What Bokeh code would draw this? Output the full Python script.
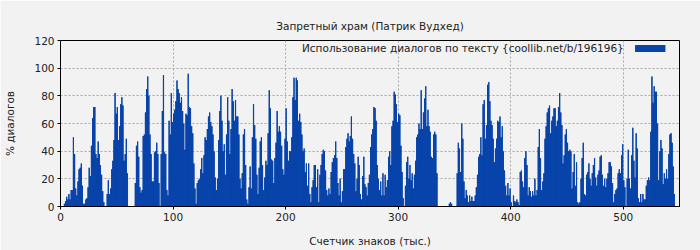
from bokeh.plotting import figure
from bokeh.models import Range1d, BoxAnnotation, Label, FixedTicker
from bokeh.embed import file_html
from bokeh.resources import INLINE

title_text = "Запретный храм (Патрик Вудхед)"
x_label = "Счетчик знаков (тыс.)"
y_label = "% диалогов"
legend_text = "Использование диалогов по тексту {coollib.net/b/196196}"
x_ticks = [0, 100, 200, 300, 400, 500]
y_ticks = [0, 20, 40, 60, 80, 100, 120]

# % of dialogue per 1000 characters
seg_000_047 = [0, 0, 0, 2, 4, 7, 5, 9, 5, 12, 12, 50, 38, 13, 8, 18, 27, 28, 31, 15, 2, 2, 5, 6,
               14, 28, 22, 44, 64, 72, 72, 38, 35, 47, 38, 30, 23, 11, 3, 0, 0, 9, 19, 9, 13, 27, 33, 48]
seg_048_096 = [82, 67, 72, 48, 58, 74, 79, 73, 33, 38, 49, 24, 0, 0, 0, 0, 0, 0, 17, 44, 47, 36, 14, 10,
               12, 51, 52, 68, 85, 94, 80, 52, 38, 18, 18, 39, 40, 46, 38, 17, 0, 38, 69, 95, 39, 38, 12, 8, 62]
seg_097_145 = [52, 82, 61, 67, 70, 76, 91, 85, 82, 75, 79, 69, 60, 41, 67, 66, 96, 72, 71, 58, 53, 31, 13, 2,
               17, 19, 20, 27, 35, 24, 37, 50, 48, 56, 65, 68, 61, 58, 52, 40, 21, 12, 20, 48, 69, 80, 62, 40, 45]
seg_146_194 = [23, 52, 79, 62, 38, 56, 85, 76, 62, 77, 65, 65, 52, 20, 13, 24, 52, 56, 30, 5, 2, 14, 29, 13,
               50, 74, 59, 49, 23, 9, 28, 47, 50, 30, 12, 21, 33, 30, 53, 84, 71, 34, 33, 17, 35, 46, 69, 54, 58]
seg_195_243 = [54, 44, 27, 23, 49, 71, 47, 33, 40, 40, 50, 79, 93, 77, 93, 91, 62, 67, 61, 52, 40, 42, 25, 31,
               15, 31, 9, 3, 14, 19, 30, 30, 14, 27, 3, 23, 30, 38, 41, 40, 26, 12, 8, 13, 9, 25, 32, 35, 37]
seg_244_292 = [47, 35, 17, 8, 20, 3, 11, 27, 27, 43, 49, 53, 47, 51, 65, 49, 38, 31, 11, 20, 36, 30, 9, 5,
               22, 36, 16, 14, 8, 17, 23, 43, 52, 56, 72, 71, 62, 30, 20, 12, 18, 8, 24, 8, 23, 14, 19, 36, 40]
seg_293_334 = [30, 58, 62, 83, 81, 74, 61, 67, 66, 44, 25, 6, 0, 15, 32, 36, 20, 30, 19, 24, 13, 23, 33, 50,
               52, 60, 56, 84, 56, 68, 78, 87, 58, 70, 58, 54, 36, 35, 52, 54, 52, 24]
seg_335_351 = [0, 0, 0, 0, 0, 0, 0, 0, 0, 0, 2, 3, 2, 0, 0, 0, 0]
seg_352_390 = [24, 46, 42, 25, 60, 49, 18, 6, 12, 8, 3, 8, 4, 7, 4, 4, 8, 14, 23, 36, 38, 50, 37, 74,
               77, 49, 59, 88, 90, 76, 62, 59, 49, 32, 42, 49, 62, 61, 65]
seg_391_439 = [50, 58, 40, 26, 15, 8, 17, 8, 13, 3, 0, 8, 4, 3, 5, 3, 1, 25, 26, 18, 14, 35, 40, 30,
               8, 14, 11, 7, 11, 8, 20, 8, 12, 43, 56, 35, 12, 18, 24, 49, 58, 68, 71, 73, 53, 62, 65, 71, 71]
seg_440_488 = [58, 62, 72, 82, 68, 59, 31, 37, 52, 56, 46, 40, 41, 40, 13, 25, 38, 15, 32, 3, 2, 3, 20, 35,
               46, 9, 8, 23, 25, 31, 20, 15, 24, 30, 35, 21, 15, 23, 26, 36, 37, 23, 15, 20, 14, 20, 24, 32, 32]
seg_489_505 = [29, 17, 3, 9, 12, 13, 24, 27, 24, 37, 45, 19, 14, 0, 20, 41, 20]
seg_506_545 = [13, 37, 57, 33, 21, 53, 42, 6, 3, 9, 3, 9, 5, 5, 15, 19, 21, 19, 54, 94, 75, 87, 83, 83,
               60, 19, 40, 48, 42, 16, 24, 20, 27, 20, 38, 52, 53, 46, 29, 9]

dialog_pct = (seg_000_047 + seg_048_096 + seg_097_145 + seg_146_194 + seg_195_243 + seg_244_292
              + seg_293_334 + seg_335_351 + seg_352_390 + seg_391_439 + seg_440_488 + seg_489_505
              + seg_506_545)
thousands = [i + 0.5 for i in range(len(dialog_pct))]
# left edges for a seamless step fill under the bars
edges = [float(i) for i in range(len(dialog_pct) + 1)]
edge_vals = dialog_pct + dialog_pct[-1:]

BAR = "#0844aa"
BG = "#f2f2f2"
FONT = "DejaVu Sans"
TXT = "#222222"
FS = "10.5px"

p = figure(width=700, height=250, output_backend="svg", toolbar_location=None,
           x_range=Range1d(0, 550), y_range=Range1d(0, 120),
           min_border_left=60, min_border_right=21, min_border_top=40, min_border_bottom=44)
p.background_fill_color = BG
p.border_fill_color = BG
p.outline_line_color = "black"
p.outline_line_width = 1

p.varea_step(x=edges, y1=[0] * len(edges), y2=edge_vals, step_mode="after", fill_color=BAR)
p.vbar(x=thousands, top=dialog_pct, bottom=0, width=1.0, fill_color=BAR, line_color=None)

p.title.text = title_text
p.title.align = "center"
p.title.vertical_align = "middle"
p.title.standoff = 16
p.title.text_font = FONT
p.title.text_font_size = FS
p.title.text_font_style = "normal"
p.title.text_color = TXT

p.xaxis.ticker = FixedTicker(ticks=x_ticks)
p.yaxis.ticker = FixedTicker(ticks=y_ticks)
for ax in (p.xaxis, p.yaxis):
    ax.major_tick_out = 3
    ax.major_tick_in = 0
    ax.minor_tick_out = 0
    ax.minor_tick_in = 0
    ax.axis_line_color = "black"
    ax.major_tick_line_color = "black"
    ax.major_label_text_font = FONT
    ax.major_label_text_font_size = FS
    ax.major_label_text_color = TXT
    ax.axis_label_text_font = FONT
    ax.axis_label_text_font_size = FS
    ax.axis_label_text_font_style = "normal"
    ax.axis_label_text_color = TXT
p.xaxis.axis_label = x_label
p.yaxis.axis_label = y_label
p.xaxis.major_label_standoff = 3
p.xaxis.axis_label_standoff = 11
p.yaxis.major_label_standoff = 3
p.yaxis.axis_label_standoff = 15

for g in (p.xgrid, p.ygrid):
    g.grid_line_color = "#a8a8a8"
    g.grid_line_dash = "2 2"
    g.grid_line_width = 1
p.xgrid.ticker = FixedTicker(ticks=x_ticks)
p.ygrid.ticker = FixedTicker(ticks=y_ticks)

# legend (label left of swatch, as in the original)
p.add_layout(Label(x=500.5, y=114.5, text=legend_text, text_align="right", text_baseline="middle",
                   text_font=FONT, text_font_size=FS, text_color=TXT))
p.add_layout(BoxAnnotation(left=510.5, right=537.5, bottom=111.7, top=116.8,
                           fill_color=BAR, fill_alpha=1.0, line_color=None))

open("out.html", "w").write(file_html(p, INLINE))
